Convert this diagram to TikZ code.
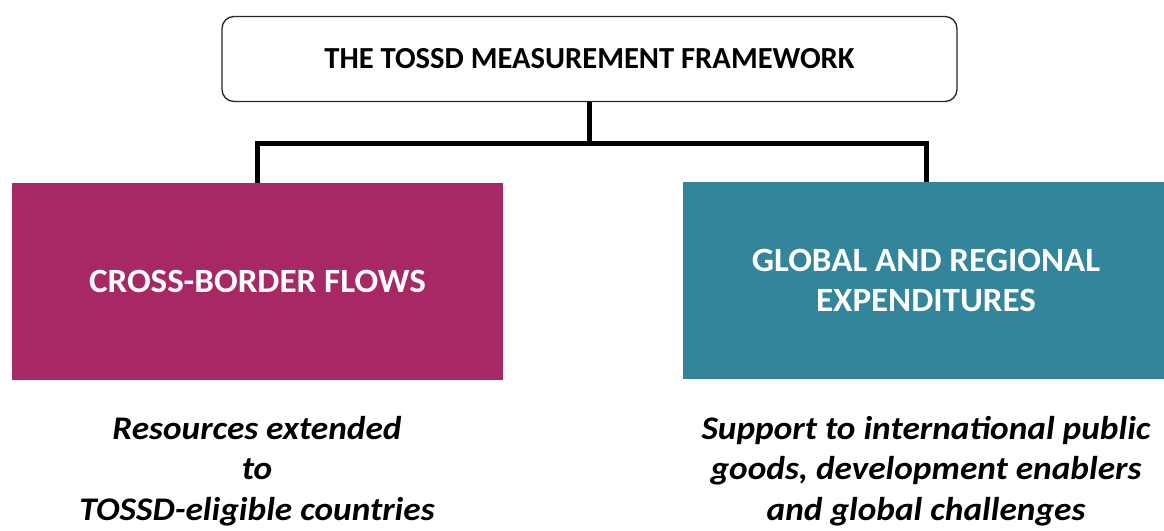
\documentclass[tikz,border=0pt]{standalone}
\usepackage{fontspec}
\setmainfont{Carlito}
\usetikzlibrary{positioning}

\definecolor{flowred}{HTML}{A72864}
\definecolor{globalteal}{HTML}{32859B}

\tikzset{
    headbox/.style={draw=black!85, line width=1.3pt, rounded corners=12pt, fill=white,
        minimum width=735pt, minimum height=85pt, font=\fontsize{30.6}{36}\selectfont\bfseries},
    pillar/.style={minimum height=197pt, text=white, align=center,
        font=\addfontfeatures{FakeStretch=1.03}\fontsize{34}{40}\selectfont\bfseries},
    note/.style={align=center, inner sep=0pt,
        font=\addfontfeatures{FakeStretch=1.07}\fontsize{33}{40.5}\selectfont\bfseries\itshape},
    conn/.style={line width=5pt}
}

\begin{document}
\begin{tikzpicture}[x=1pt, y=-1pt]
    \useasboundingbox (0,0) rectangle (1164,530);

    % Nodes
    \node[headbox] (frame) at (589.5,59) {THE TOSSD MEASUREMENT FRAMEWORK};
    \node[pillar, fill=flowred, minimum width=491pt] (cross) at (257.5,281.5) {CROSS-BORDER FLOWS};
    \node[pillar, fill=globalteal, minimum width=486pt] (global) at (926,280.5) {GLOBAL AND REGIONAL\\EXPENDITURES};

    \node[note, anchor=north] (crossnote) at (257,416) {Resources extended\\to\\TOSSD-eligible countries};
    \node[note, anchor=north] (globalnote) at (926,416) {Support to international public\\goods, development enablers\\and global challenges};

    % Connectors
    \draw[conn] (frame.south) -- ++(0,41) coordinate (join);
    \draw[conn] (cross.north) |- (join) -| (global.north);
\end{tikzpicture}
\end{document}
